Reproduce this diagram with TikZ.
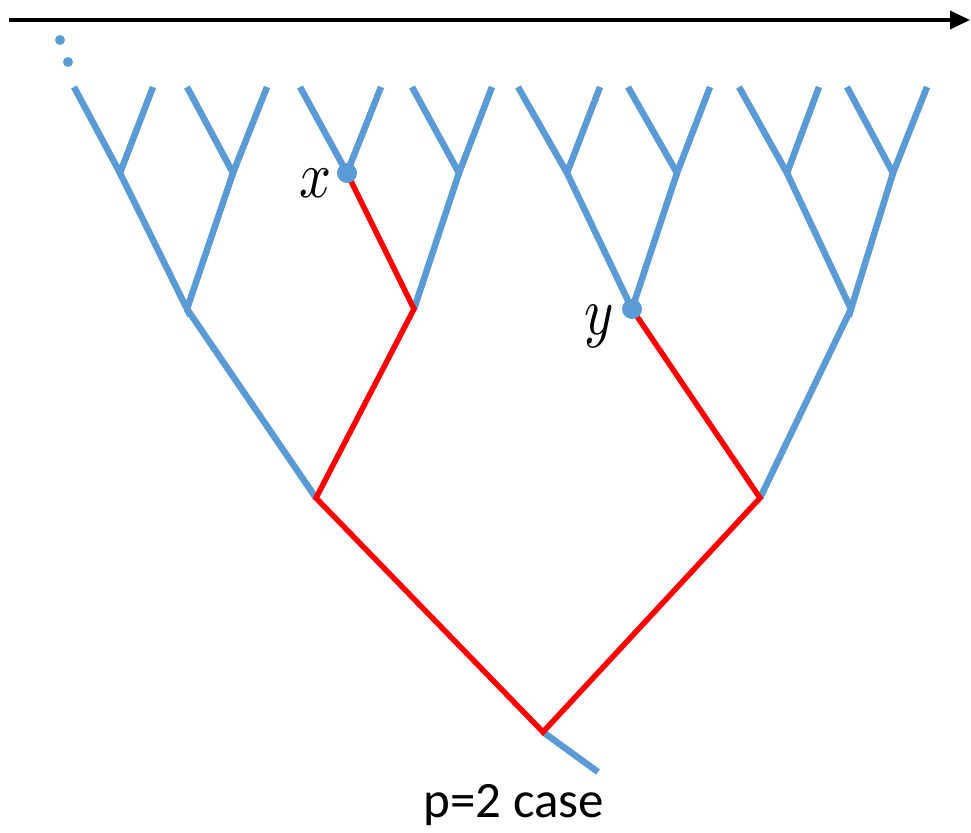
\documentclass[tikz,border=0pt]{standalone}
\usepackage{fontspec}
\newfontfamily\calib{Carlito}
\usetikzlibrary{arrows.meta}
\definecolor{tblue}{HTML}{5B9BD5}
\definecolor{tred}{HTML}{FF0000}
\tikzset{
  bl/.style={draw=tblue, line width=6.5pt},
  rd/.style={draw=tred, line width=5.5pt},
  dot/.style={circle, fill=tblue, inner sep=0pt, minimum size=#1},
  lbl/.style={inner sep=0pt, anchor=center},
}
\begin{document}
\begin{tikzpicture}[x=1pt,y=-1pt]
\useasboundingbox (0,0) rectangle (971,832);
% time arrow
\coordinate (a0) at (9,20);
\coordinate (a1) at (970,20);
\draw[line width=3.5pt, -{Triangle[length=20pt,width=18pt]}] (a0) -- (a1);
% small dots
\node[dot=10pt] (d1) at (60,40) {};
\node[dot=10pt] (d2) at (68,62) {};
% leaves
\foreach \n/\x in {1/74,2/153,3/187,4/267,5/300,6/381,7/412,8/492,9/518,10/600,11/628,12/710,13/739,14/819,15/847,16/927}
  \coordinate (l\n) at (\x,87);
% level 3
\coordinate (c1) at (120,173);
\coordinate (c2) at (233,173);
\coordinate (c3) at (347,173);
\coordinate (c4) at (459,173);
\coordinate (c5) at (567,173);
\coordinate (c6) at (677,173);
\coordinate (c7) at (787,173);
\coordinate (c8) at (893,173);
% level 2
\coordinate (b1) at (187,309);
\coordinate (b2) at (414,309);
\coordinate (b3) at (632,309);
\coordinate (b4) at (851,309);
% level 1
\coordinate (m1) at (316,498);
\coordinate (m2) at (760,498);
% root
\coordinate (r) at (543,732);
\coordinate (s) at (598,772);
% blue edges
\foreach \i/\a/\b in {1/1/2,2/3/4,3/5/6,4/7/8,5/9/10,6/11/12,7/13/14,8/15/16}{
  \draw[bl] (l\a) -- (c\i) -- (l\b);
}
\draw[bl] (c1) -- (b1) -- (c2);
\draw[bl] (b2) -- (c4);
\draw[bl] (c5) -- (b3) -- (c6);
\draw[bl] (c7) -- (b4) -- (c8);
\draw[bl] (m1) -- (b1);
\draw[bl] (m2) -- (b4);
\draw[bl] (r) -- (s);
% red path
\draw[rd, line join=miter] (c3) -- (b2) -- (m1) -- (r) -- (m2) -- (b3);
% marked points
\node[dot=20pt] (x) at (c3) {};
\node[dot=20pt] (y) at (b3) {};
\node[lbl] (xl) at ([xshift=-32pt,yshift=-10pt]x.center) {\scalebox{5.6}[6.6]{$x$}};
\node[lbl] (yl) at ([xshift=-33pt,yshift=-17pt]y.center) {\scalebox{5.6}[6.8]{$y$}};
\node[font=\calib\fontsize{51}{53}\selectfont, inner sep=0pt] (cap) at (514,805) {p=2 case};
\end{tikzpicture}
\end{document}
